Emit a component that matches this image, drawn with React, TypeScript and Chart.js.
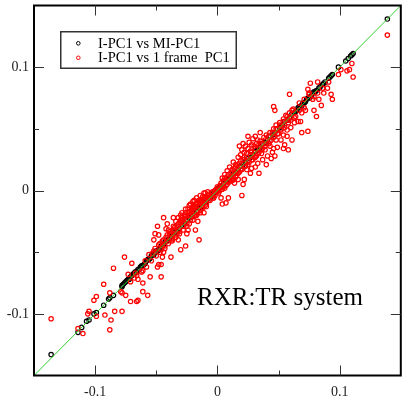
import React, { useEffect, useRef } from "react";
import { Chart, registerables } from "chart.js";

Chart.register(...registerables);

const axisMin = -0.15;
const axisMax = 0.15;
const tickValues = [-0.1, 0, 0.1];
const tickLabels = ["-0.1", "0", "0.1"];
const minorTickValues = [-0.05, 0.05];

const lineX = [-0.15, 0.15];
const lineY = [-0.15, 0.15];

const seriesNames = ["I-PC1 vs MI-PC1", "I-PC1 vs 1 frame  PC1"];
const annotation = "RXR:TR system";

const blackPoints: [number, number][] = [
  [-0.136, -0.133], [-0.114, -0.115], [-0.111, -0.111], [-0.107, -0.106], [-0.105, -0.105],
  [-0.101, -0.1], [-0.099, -0.099], [-0.093, -0.093], [-0.089, -0.088], [-0.088, -0.087],
  [-0.085, -0.085], [-0.078, -0.077], [-0.077, -0.076], [-0.076, -0.075], [-0.074, -0.073],
  [-0.072, -0.072], [-0.07, -0.069], [-0.068, -0.067], [-0.066, -0.066], [-0.065, -0.064],
  [-0.063, -0.062], [-0.061, -0.061], [-0.059, -0.059], [-0.057, -0.056], [-0.055, -0.055],
  [-0.053, -0.052], [-0.051, -0.05], [-0.049, -0.049], [-0.047, -0.047], [-0.045, -0.045],
  [-0.043, -0.042], [-0.041, -0.04], [-0.039, -0.039], [-0.037, -0.036], [-0.035, -0.034],
  [-0.033, -0.033], [-0.031, -0.031], [-0.029, -0.028], [-0.027, -0.027], [-0.025, -0.024],
  [-0.023, -0.022], [-0.021, -0.021], [-0.019, -0.018], [-0.017, -0.017], [-0.015, -0.014],
  [-0.013, -0.013], [-0.011, -0.01], [-0.009, -0.009], [-0.007, -0.006], [-0.005, -0.005],
  [-0.003, -0.002], [-0.001, -0.001], [0.001, 0.002], [0.003, 0.003], [0.005, 0.005],
  [0.007, 0.008], [0.009, 0.009], [0.011, 0.011], [0.013, 0.014], [0.015, 0.015],
  [0.017, 0.017], [0.019, 0.02], [0.021, 0.021], [0.023, 0.023], [0.025, 0.026],
  [0.027, 0.027], [0.029, 0.029], [0.031, 0.032], [0.033, 0.033], [0.035, 0.035],
  [0.037, 0.038], [0.039, 0.039], [0.041, 0.041], [0.043, 0.044], [0.045, 0.045],
  [0.047, 0.047], [0.049, 0.05], [0.051, 0.051], [0.053, 0.053], [0.055, 0.056],
  [0.057, 0.057], [0.059, 0.059], [0.061, 0.062], [0.063, 0.063], [0.065, 0.065],
  [0.067, 0.068], [0.069, 0.069], [0.071, 0.071], [0.073, 0.074], [0.075, 0.075],
  [0.077, 0.077], [0.079, 0.08], [0.081, 0.081], [0.084, 0.084], [0.086, 0.086],
  [0.088, 0.088], [0.092, 0.092], [0.093, 0.093], [0.094, 0.094], [0.099, 0.1],
  [0.105, 0.105], [0.107, 0.107], [0.11, 0.11], [0.111, 0.111], [0.139, 0.139],
];

const blackFill: [number, number][] = [
  [-0.078, -0.078], [-0.075, -0.074], [-0.073, -0.072], [-0.071, -0.07], [-0.069, -0.068],
  [-0.067, -0.066], [-0.064, -0.064], [-0.062, -0.061], [-0.06, -0.06], [-0.058, -0.057],
  [-0.056, -0.056], [-0.054, -0.053], [-0.052, -0.052], [-0.05, -0.049], [-0.048, -0.048],
  [-0.046, -0.045], [-0.044, -0.044], [-0.042, -0.041], [-0.04, -0.04], [-0.038, -0.037],
  [0.064, 0.064], [0.066, 0.067], [0.068, 0.068], [0.07, 0.071], [0.072, 0.072],
  [0.074, 0.075], [0.076, 0.076], [0.078, 0.079], [0.08, 0.08], [0.083, 0.083],
  [0.087, 0.087], [0.091, 0.091], [0.109, 0.109],
];

const redOutliers: [number, number][] = [
  [-0.136, -0.104], [-0.114, -0.112], [-0.11, -0.116], [-0.106, -0.1], [-0.105, -0.098],
  [-0.101, -0.089], [-0.099, -0.086], [-0.099, -0.102], [-0.092, -0.101], [-0.093, -0.076],
  [-0.088, -0.083], [-0.088, -0.113], [-0.087, -0.105], [-0.085, -0.063], [-0.084, -0.098],
  [-0.078, -0.083], [-0.078, -0.098], [-0.076, -0.054], [-0.075, -0.085], [-0.073, -0.068],
  [-0.071, -0.09], [-0.07, -0.059], [-0.068, -0.071], [-0.067, -0.067], [-0.065, -0.072],
  [-0.065, -0.089], [-0.066, -0.09], [-0.061, -0.082], [-0.061, -0.065], [-0.061, -0.075],
  [-0.057, -0.085], [-0.059, -0.057], [-0.055, -0.07], [-0.053, -0.051], [-0.051, -0.047],
  [-0.049, -0.062], [-0.048, -0.06], [-0.046, -0.06], [-0.045, -0.054], [-0.052, -0.04],
  [-0.051, -0.035], [-0.049, -0.029], [-0.048, -0.036], [-0.046, -0.07], [-0.045, -0.045],
  [-0.044, -0.05], [-0.044, -0.022], [-0.042, -0.031], [-0.041, -0.027], [-0.04, -0.032],
  [-0.038, -0.035], [-0.038, -0.054], [-0.037, -0.04], [-0.036, -0.022], [-0.036, -0.029],
  [-0.034, -0.025], [-0.033, -0.035], [-0.032, -0.032], [-0.032, -0.04], [-0.03, -0.02],
  [-0.03, -0.048], [-0.029, -0.024], [-0.028, -0.029], [-0.026, -0.018], [-0.026, -0.045],
  [-0.025, -0.035], [-0.024, -0.032], [-0.024, -0.015], [-0.022, -0.024], [-0.022, -0.011],
  [-0.021, -0.018], [-0.019, -0.014], [-0.019, -0.008], [-0.018, -0.02], [-0.018, -0.032],
  [-0.017, -0.011], [-0.016, -0.025], [-0.015, -0.013], [-0.015, -0.04], [-0.014, -0.018],
  [-0.013, -0.008], [-0.011, -0.018], [-0.011, -0.002], [-0.01, -0.005], [-0.009, -0.013],
  [-0.007, -0.008], [-0.005, -0.004], [-0.003, -0.006], [-0.002, -0.002], [0.0, -0.001],
  [0.002, 0.0], [0.003, -0.006], [0.004, 0.003], [0.004, -0.011], [0.006, 0.002],
  [0.007, -0.01], [0.008, 0.005], [0.009, 0.008], [0.009, -0.006], [0.012, 0.008],
  [0.013, 0.009], [0.014, 0.006], [0.015, 0.011], [0.017, 0.014], [0.017, 0.009],
  [0.02, -0.004], [0.021, 0.005], [0.022, 0.009], [0.024, 0.017], [0.025, 0.021],
  [0.027, 0.014], [0.028, 0.018], [0.029, 0.025], [0.031, 0.019], [0.032, 0.028],
  [0.033, 0.022], [0.034, 0.014], [0.036, 0.03], [0.037, 0.025], [0.039, 0.033],
  [0.04, 0.021], [0.041, 0.028], [0.043, 0.036], [0.044, 0.026], [0.045, 0.031],
  [0.046, 0.034], [0.047, 0.028], [0.048, 0.041], [0.049, 0.035], [0.051, 0.052],
  [0.052, 0.041], [0.054, 0.045], [0.054, 0.034], [0.055, 0.037], [0.057, 0.044],
  [0.057, 0.049], [0.058, 0.033], [0.059, 0.078], [0.06, 0.059], [0.06, 0.051],
  [0.061, 0.065], [0.061, 0.041], [0.063, 0.055], [0.064, 0.06], [0.066, 0.056],
  [0.067, 0.065], [0.068, 0.056], [0.069, 0.047], [0.069, 0.063], [0.071, 0.074],
  [0.072, 0.065], [0.074, 0.048], [0.074, 0.082], [0.075, 0.078], [0.076, 0.087],
  [0.078, 0.074], [0.079, 0.065], [0.081, 0.06], [0.082, 0.088], [0.083, 0.074],
  [0.085, 0.069], [0.087, 0.079], [0.09, 0.083], [0.091, 0.088], [0.093, 0.078],
  [0.094, 0.074], [0.099, 0.094], [0.101, 0.098], [0.106, 0.097], [0.108, 0.098],
  [0.11, 0.103], [0.111, 0.092], [0.139, 0.126], [0.046, 0.068], [0.047, 0.065],
  [0.018, 0.036], [0.021, 0.038], [0.025, 0.044],
];

const redBand: [number, number][] = [
  [-0.079, -0.082], [-0.071, -0.074], [-0.066, -0.069], [-0.062, -0.066], [-0.058, -0.062],
  [-0.056, -0.052], [-0.054, -0.057],
  [-0.052, -0.049], [-0.05, -0.053], [-0.048, -0.044], [-0.047, -0.05], [-0.045, -0.041],
  [-0.043, -0.047], [-0.042, -0.038], [-0.04, -0.043], [-0.039, -0.035], [-0.037, -0.041],
  [-0.036, -0.032], [-0.034, -0.038], [-0.033, -0.029], [-0.031, -0.035], [-0.03, -0.026],
  [-0.028, -0.032], [-0.027, -0.023], [-0.025, -0.029], [-0.024, -0.02], [-0.023, -0.027],
  [-0.021, -0.016], [-0.02, -0.024], [-0.019, -0.013], [-0.017, -0.02], [-0.016, -0.01],
  [-0.014, -0.016], [-0.013, -0.009], [-0.012, -0.014], [-0.01, -0.007], [-0.009, -0.011],
  [-0.008, -0.004], [-0.006, -0.008], [-0.004, -0.001], [-0.002, -0.004], [-0.001, 0.001],
  [0.001, -0.002], [0.002, 0.004], [0.004, 0.001], [0.005, 0.008], [0.007, 0.004],
  [0.008, 0.011], [0.01, 0.007], [0.011, 0.014], [0.012, 0.01], [0.014, 0.018],
  [0.015, 0.012], [0.016, 0.02], [0.018, 0.015], [0.019, 0.024], [0.02, 0.017],
  [0.022, 0.027], [0.023, 0.02], [0.024, 0.03], [0.026, 0.023], [0.027, 0.032],
  [0.028, 0.025], [0.03, 0.036], [0.031, 0.027], [0.032, 0.038], [0.034, 0.031],
  [0.035, 0.04], [0.036, 0.033], [0.038, 0.043], [0.039, 0.036], [0.04, 0.045],
  [0.042, 0.038], [0.043, 0.047], [0.044, 0.041], [0.046, 0.05], [0.047, 0.044],
  [0.048, 0.053], [0.05, 0.046], [0.051, 0.055], [0.052, 0.049], [0.054, 0.058],
  [0.055, 0.051], [0.056, 0.061], [0.058, 0.055], [0.059, 0.063], [0.06, 0.057],
  [0.062, 0.066], [0.063, 0.059], [0.067, 0.071], [0.071, 0.067], [0.075, 0.079],
  [0.079, 0.076], [0.082, 0.079], [0.086, 0.083],
  [-0.032, -0.022], [-0.03, -0.024], [-0.029, -0.018], [-0.027, -0.02], [-0.026, -0.015],
  [-0.024, -0.018], [-0.023, -0.012], [-0.021, -0.014], [-0.02, -0.009], [-0.018, -0.011],
  [-0.017, -0.006], [-0.015, -0.008], [-0.014, -0.004], [-0.012, -0.005], [-0.01, -0.002],
  [-0.008, -0.001],
  [0.004, 0.01], [0.006, 0.013], [0.008, 0.016], [0.01, 0.019], [0.012, 0.017],
  [0.013, 0.023], [0.015, 0.021], [0.017, 0.027], [0.019, 0.029], [0.02, 0.033],
  [0.022, 0.031], [0.023, 0.036], [0.025, 0.034], [0.026, 0.039], [0.028, 0.037],
  [0.029, 0.042], [0.031, 0.044], [0.033, 0.041], [0.035, 0.047],
];

const redDense: [number, number][] = [
  [-0.047, -0.043], [-0.046, -0.048], [-0.044, -0.04],
  [-0.043, -0.045], [-0.041, -0.036], [-0.04, -0.041], [-0.038, -0.033], [-0.037, -0.039],
  [-0.035, -0.03], [-0.034, -0.036], [-0.032, -0.027], [-0.031, -0.033], [-0.029, -0.022],
  [-0.028, -0.026], [-0.026, -0.021], [-0.025, -0.027], [-0.023, -0.017], [-0.022, -0.02],
  [-0.02, -0.015], [-0.019, -0.021], [-0.017, -0.013], [-0.016, -0.018], [-0.014, -0.01],
  [-0.013, -0.015], [-0.011, -0.007], [-0.01, -0.012], [-0.008, -0.006], [-0.007, -0.003],
  [-0.005, -0.002], [-0.004, -0.006], [-0.002, 0.0], [0.0, 0.003], [0.001, 0.001],
  [0.003, 0.006], [0.005, 0.003], [0.006, 0.01], [0.008, 0.007], [0.009, 0.013],
  [0.011, 0.009], [0.012, 0.015], [0.013, 0.012], [0.015, 0.019], [0.016, 0.014],
  [0.018, 0.022], [0.019, 0.017], [0.021, 0.025], [0.022, 0.019], [0.024, 0.027],
  [0.025, 0.024], [0.027, 0.029], [0.028, 0.031], [0.03, 0.027], [0.031, 0.034],
  [0.033, 0.03], [0.034, 0.037], [0.036, 0.038], [0.037, 0.034], [0.039, 0.041],
  [0.04, 0.038], [0.042, 0.044], [0.043, 0.04], [0.045, 0.047], [0.046, 0.043],
  [0.048, 0.05], [0.049, 0.046], [0.051, 0.053], [0.052, 0.05], [0.054, 0.056],
  [0.055, 0.053], [0.057, 0.06], [0.058, 0.057],
];

const SERIF = '"Liberation Serif", "Times New Roman", serif';

const framePlugin = {
  id: "framePlugin",
  afterDraw(chart: any) {
    const { ctx, chartArea, scales } = chart;
    const { left, right, top, bottom } = chartArea;
    const xs = scales.x;
    const ys = scales.y;
    ctx.save();
    ctx.strokeStyle = "#000";
    ctx.lineWidth = 2;
    ctx.strokeRect(left, top, right - left, bottom - top);
    ctx.strokeStyle = "#333";
    ctx.lineWidth = 1;
    const drawTicks = (vals: number[], len: number) => {
      for (const v of vals) {
        const px = Math.round(xs.getPixelForValue(v)) + 0.5;
        const py = Math.round(ys.getPixelForValue(v)) + 0.5;
        ctx.beginPath();
        ctx.moveTo(px, bottom);
        ctx.lineTo(px, bottom - len);
        ctx.moveTo(px, top);
        ctx.lineTo(px, top + len);
        ctx.moveTo(left, py);
        ctx.lineTo(left + len, py);
        ctx.moveTo(right, py);
        ctx.lineTo(right - len, py);
        ctx.stroke();
      }
    };
    drawTicks(tickValues, 10);
    drawTicks(minorTickValues, 5);

    ctx.strokeStyle = "#333";
    ctx.lineWidth = 1.5;
    ctx.strokeRect(60.75, 31.75, 175.5, 36.5);
    const markerColors = ["#000", "#ff0000"];
    const rowsY = [43.3, 57.8];
    ctx.font = `14.5px ${SERIF}`;
    ctx.textBaseline = "middle";
    ctx.textAlign = "left";
    ctx.fillStyle = "#000";
    for (let i = 0; i < seriesNames.length; i++) {
      ctx.beginPath();
      ctx.lineWidth = 1;
      ctx.strokeStyle = markerColors[i];
      ctx.arc(78.3, rowsY[i], 1.8, 0, Math.PI * 2);
      ctx.stroke();
      ctx.fillText(seriesNames[i], 98, rowsY[i] + 0.5);
    }

    ctx.font = `25px ${SERIF}`;
    ctx.textBaseline = "alphabetic";
    ctx.fillText(annotation, 197, 305);
    ctx.restore();
  },
};

export default function App() {
  const ref = useRef<HTMLCanvasElement | null>(null);

  useEffect(() => {
    if (!ref.current) return;
    const tickFont = { family: SERIF, size: 14 };
    const labelFor = (v: number) => {
      const i = tickValues.findIndex((t) => Math.abs(t - v) < 1e-9);
      return i >= 0 ? tickLabels[i] : null;
    };
    const chart = new Chart(ref.current, {
      type: "scatter",
      data: {
        datasets: [
          {
            label: "y = x",
            data: lineX.map((x, i) => ({ x, y: lineY[i] })),
            showLine: true,
            borderColor: "#33cc33",
            borderWidth: 1,
            pointRadius: 0,
            order: 0,
          },
          {
            label: seriesNames[1],
            data: [...redBand, ...redDense, ...redOutliers].map(([x, y]) => ({ x, y })),
            borderColor: "#ff0000",
            backgroundColor: "rgba(0,0,0,0)",
            pointRadius: 2.2,
            borderWidth: 1.2,
            order: 1,
          },
          {
            label: seriesNames[0],
            data: [...blackPoints, ...blackFill].map(([x, y]) => ({ x, y })),
            borderColor: "#000",
            backgroundColor: "rgba(0,0,0,0)",
            pointRadius: 2.2,
            borderWidth: 1.2,
            order: 2,
          },
        ],
      },
      options: {
        animation: false,
        responsive: false,
        maintainAspectRatio: false,
        layout: { padding: { top: 5.5, right: 2, left: 0, bottom: 0 } },
        plugins: { legend: { display: false }, tooltip: { enabled: false } },
        scales: {
          x: {
            type: "linear",
            min: axisMin,
            max: axisMax,
            grid: { display: false, drawTicks: false },
            border: { display: false },
            afterBuildTicks: (s: any) => {
              s.ticks = tickValues.map((v) => ({ value: v }));
            },
            afterFit: (s: any) => {
              s.height = 24.5;
              s.paddingLeft = 0;
              s.paddingRight = 0;
            },
            ticks: {
              autoSkip: false,
              maxRotation: 0,
              padding: 8,
              color: "#222",
              font: tickFont,
              callback: (v: any) => labelFor(Number(v)),
            },
          },
          y: {
            type: "linear",
            min: axisMin,
            max: axisMax,
            grid: { display: false, drawTicks: false },
            border: { display: false },
            afterBuildTicks: (s: any) => {
              s.ticks = tickValues.map((v) => ({ value: v }));
            },
            afterFit: (s: any) => {
              s.width = 34;
              s.paddingTop = 0;
              s.paddingBottom = 0;
            },
            ticks: {
              autoSkip: false,
              padding: 5,
              color: "#222",
              font: tickFont,
              callback: (v: any) => labelFor(Number(v)),
            },
          },
        },
      },
      plugins: [framePlugin],
    });
    return () => chart.destroy();
  }, []);

  return (
    <div
      style={{
        position: "fixed",
        left: 0,
        top: 0,
        width: 403,
        height: 400,
        overflow: "hidden",
        background: "#fff",
      }}
    >
      <canvas ref={ref} width={406} height={400} style={{ display: "block" }} />
    </div>
  );
}
